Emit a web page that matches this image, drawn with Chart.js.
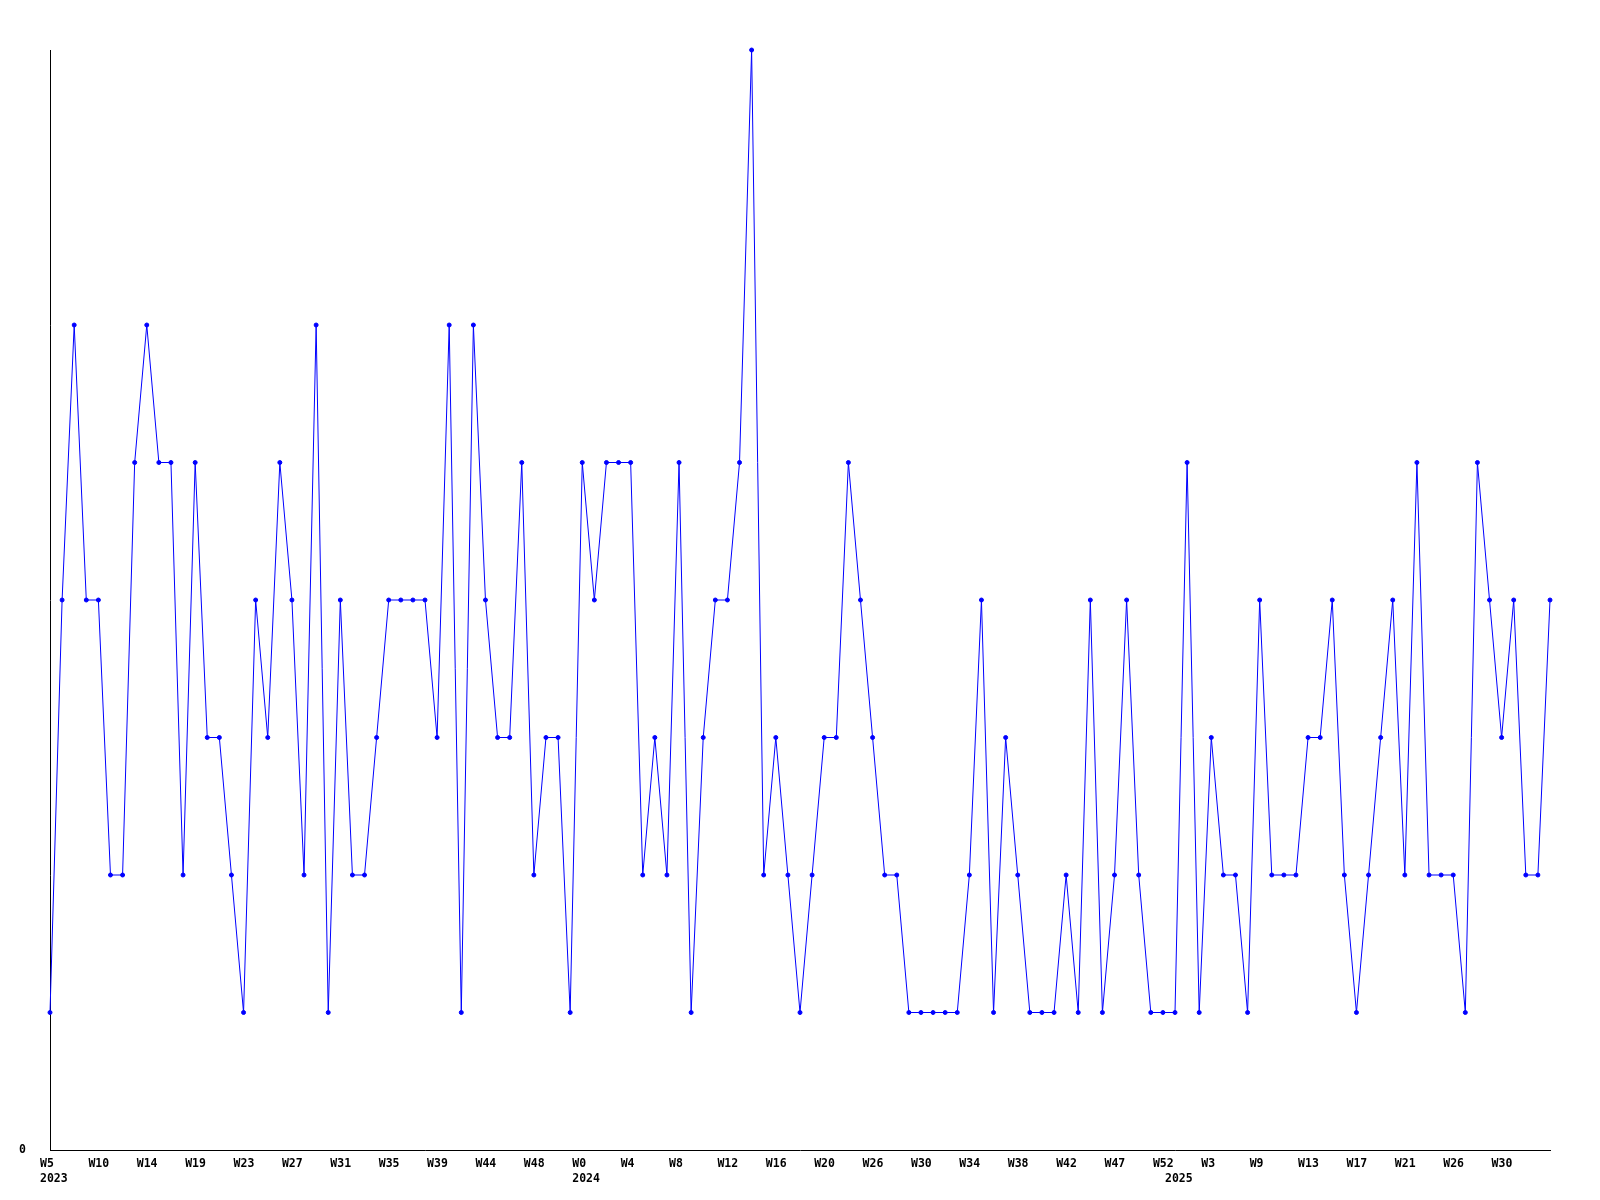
<!DOCTYPE html>
<html>
<head>
<meta charset="utf-8">
<script src="https://cdn.jsdelivr.net/npm/chart.js@4/dist/chart.umd.min.js"></script>
<style>
  html, body { margin: 0; padding: 0; background: #fff; }
  canvas { display: block; }
</style>
</head>
<body>
<canvas id="myLine" width="1600" height="1200"></canvas>
<script>
// one value per point
const values = [
  1,4,6,4,4,2,2,5,6,5,
  5,2,5,3,3,2,1,4,3,5,
  4,2,6,1,4,2,2,3,4,4,
  4,4,3,6,1,6,4,3,3,5,
  2,3,3,1,5,4,5,5,5,2,
  3,2,5,1,3,4,4,5,8,2,
  3,2,1,2,3,3,5,4,3,2,
  2,1,1,1,1,1,2,4,1,3,
  2,1,1,1,2,1,4,1,2,4,
  2,1,1,1,5,1,3,2,2,1,
  4,2,2,2,3,3,4,2,1,2,
  3,4,2,5,2,2,2,1,5,4,
  3,4,2,2,4
];

// a week label on every 4th point
const weekLabels = ["W5","W10","W14","W19","W23","W27","W31","W35","W39","W44","W48",
  "W0","W4","W8","W12","W16","W20","W26","W30","W34","W38","W42","W47",
  "W52","W3","W9","W13","W17","W21","W26","W30"];
const labelEvery = 4;

// first point of each year
const years = ["2023","2024","2025"];
const yearStart = [0, 44, 93];

let cats = values.map((v, i) => {
  let week = "";
  if (i % labelEvery === 0 && weekLabels[i / labelEvery]) week = weekLabels[i / labelEvery];
  let y = yearStart.indexOf(i);
  if (y >= 0) return [week, years[y]];
  return week;
});

Chart.defaults.font.family = "'DejaVu Sans Mono', monospace";
Chart.defaults.font.weight = "bold";
Chart.defaults.font.size = 11.5;
Chart.defaults.color = "#000";

let crt = document.getElementById("myLine");
let lineChart = new Chart(crt, {
  type: "line",
  data: {
    labels: cats,
    datasets: [{
      data: values,
      borderColor: "#0000ff",
      backgroundColor: "#0000ff",
      borderWidth: 1,
      pointRadius: 2,
      pointBorderWidth: 1,
      pointStyle: "circle",
      tension: 0,
      fill: false,
      clip: false
    }]
  },
  options: {
    responsive: false,
    animation: false,
    layout: { padding: { top: 50, right: 50, left: 0, bottom: 0 } },
    plugins: { legend: { display: false }, tooltip: { enabled: false } },
    scales: {
      x: {
        type: "category",
        grid: { display: false, drawTicks: false },
        border: { display: true, color: "#000", width: 1 },
        ticks: {
          autoSkip: false,
          maxRotation: 0,
          minRotation: 0,
          align: "start",
          labelOffset: -10,
          padding: 7,
          font: { lineHeight: 1.29 },
          callback: function (v, i) { return cats[i]; }
        },
        afterFit: function (s) { s.height = 50; }
      },
      y: {
        min: 0,
        max: 8,
        grid: { display: false, drawTicks: false },
        border: { display: true, color: "#000", width: 1 },
        ticks: { padding: 24 },
        afterBuildTicks: function (s) { s.ticks = [{ value: 0 }]; },
        afterFit: function (s) { s.width = 50; }
      }
    }
  }
});
</script>
</body>
</html>
